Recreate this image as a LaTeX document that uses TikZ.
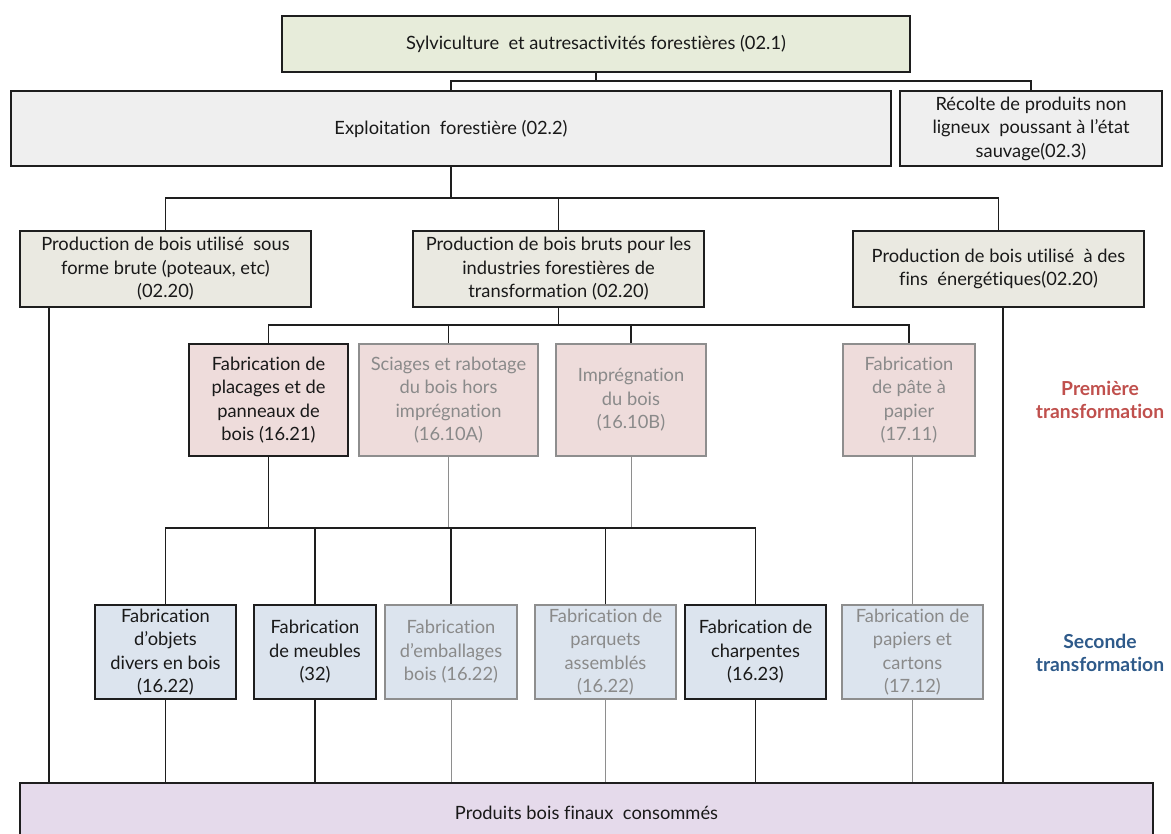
\documentclass[tikz,border=0pt]{standalone}
\usepackage{fontspec}
\setmainfont{Lato}[Ligatures=NoCommon]
\definecolor{fillTop}{HTML}{E7ECDA}
\definecolor{fillExp}{HTML}{EFEFEF}
\definecolor{fillProd}{HTML}{EAE9E1}
\definecolor{fillFirst}{HTML}{EEDCDB}
\definecolor{fillSecond}{HTML}{DCE4EE}
\definecolor{fillFinal}{HTML}{E5DAEB}
\definecolor{lineDark}{HTML}{1E1E1E}
\definecolor{lineGrey}{HTML}{8E8E8E}
\definecolor{textGrey}{HTML}{8A8A8A}
\definecolor{redLabel}{HTML}{C0504D}
\definecolor{blueLabel}{HTML}{2E5A8A}
\tikzset{
  box/.style={draw=lineDark, line width=1.3pt, align=center, inner sep=1pt,
    font=\fontsize{18.3}{23.5}\selectfont, text=black!90, anchor=center},
  greybox/.style={box, draw=lineGrey, text=textGrey},
  link/.style={draw=lineDark, line width=1.2pt},
  thicklink/.style={draw=lineDark, line width=1.5pt},
  greylink/.style={draw=lineGrey, line width=1pt},
  stage/.style={align=center, font=\fontsize{19.3}{23}\selectfont\bfseries}
}
\begin{document}
\begin{tikzpicture}[x=1pt, y=-1pt]
\useasboundingbox (0,0) rectangle (1171,834);
\clip (0,0) rectangle (1171,834);

% top level
\node[box, fill=fillTop, minimum width=628pt, minimum height=56pt] (sylv) at (596,44)
  {Sylviculture~ et autresactivités forestières (02.1)};
\node[box, fill=fillExp, minimum width=880pt, minimum height=75pt] (expl) at (451,128.5)
  {Exploitation~ forestière (02.2)};
\node[box, fill=fillExp, minimum width=262pt, minimum height=75pt] (recol) at (1031,128.5)
  {Récolte de produits non\\ligneux~ poussant à l’état\\sauvage(02.3)};

% wood production
\node[box, fill=fillProd, minimum width=291pt, minimum height=76pt] (prodA) at (165.5,269)
  {Production de bois utilisé~ sous\\forme brute (poteaux, etc)\\(02.20)};
\node[box, fill=fillProd, minimum width=291pt, minimum height=76pt] (prodB) at (558.5,269)
  {Production de bois bruts pour les\\industries forestières de\\transformation (02.20)};
\node[box, fill=fillProd, minimum width=291pt, minimum height=76pt] (prodC) at (998.5,269)
  {Production de bois utilisé~ à des\\fins~ énergétiques(02.20)};

% first transformation
\node[box, fill=fillFirst, minimum width=159pt, minimum height=112pt] (plac) at (268.5,400)
  {Fabrication de\\placages et de\\panneaux de\\bois (16.21)};
\node[greybox, fill=fillFirst, minimum width=179pt, minimum height=112pt] (scia) at (448.5,400)
  {Sciages et rabotage\\du bois hors\\imprégnation\\(16.10A)};
\node[greybox, fill=fillFirst, minimum width=150pt, minimum height=112pt] (impr) at (631,400)
  {Imprégnation\\du bois\\(16.10B)};
\node[greybox, fill=fillFirst, minimum width=132pt, minimum height=112pt] (pate) at (909,400)
  {Fabrication\\de pâte à\\papier\\(17.11)};

% second transformation
\node[box, fill=fillSecond, minimum width=141pt, minimum height=94pt] (obj) at (165.5,652)
  {Fabrication\\d’objets\\divers en bois\\(16.22)};
\node[box, fill=fillSecond, minimum width=122pt, minimum height=94pt] (meub) at (315,652)
  {Fabrication\\de meubles\\(32)};
\node[greybox, fill=fillSecond, minimum width=132pt, minimum height=94pt] (emb) at (451,652)
  {Fabrication\\d’emballages\\bois (16.22)};
\node[greybox, fill=fillSecond, minimum width=141pt, minimum height=94pt] (parq) at (605.5,652)
  {Fabrication de\\parquets\\assemblés\\(16.22)};
\node[box, fill=fillSecond, minimum width=141pt, minimum height=94pt] (charp) at (755.5,652)
  {Fabrication de\\charpentes\\(16.23)};
\node[greybox, fill=fillSecond, minimum width=141pt, minimum height=94pt] (pap) at (912.5,652)
  {Fabrication de\\papiers et\\cartons\\(17.12)};

% final products
\node[box, fill=fillFinal, minimum width=1133pt, minimum height=60pt] (final) at (586.5,813)
  {Produits bois finaux~ consommés};

% stage labels
\node[stage, text=redLabel] (first) at (1100,400) {Première\\transformation};
\node[stage, text=blueLabel] (second) at (1100,653) {Seconde\\transformation};

% junction points
\coordinate (j1) at (596,81);
\coordinate (j2) at (451,198);
\coordinate (j3) at (558.5,325);
\coordinate (j4) at (268.5,528);
\coordinate (aOut) at (49,307);
\coordinate (cOut) at (1003,307);

% connectors
\draw[link] (sylv.south) -- (j1);
\draw[link] (expl.north) |- (j1 -| recol.north) -- (recol.north);
\draw[link] (expl.south) -- (j2);
\draw[link] (prodA.north) |- (j2 -| prodC.north) -- (prodC.north);
\draw[link] (prodB.north) -- (prodB.north |- j2);
\draw[link] (prodB.south) -- (j3);
\draw[link] (plac.north) |- (j3 -| pate.north) -- (pate.north);
\draw[link] (scia.north) -- (scia.north |- j3);
\draw[link] (impr.north) -- (impr.north |- j3);

\draw[greylink] (scia.south) -- (scia.south |- j4);
\draw[greylink] (impr.south) -- (impr.south |- j4);
\draw[greylink] (pap.north) -- (pap.north |- pate.south);

\draw[thicklink] (plac.south) -- (j4);
\draw[thicklink] (obj.north) |- (j4 -| charp.north) -- (charp.north);
\draw[thicklink] (meub.north) -- (meub.north |- j4);
\draw[thicklink] (emb.north) -- (emb.north |- j4);
\draw[thicklink] (parq.north) -- (parq.north |- j4);

\draw[link] (aOut) -- (aOut |- final.north);
\draw[link] (cOut) -- (cOut |- final.north);
\draw[link] (obj.south) -- (obj.south |- final.north);
\draw[link] (meub.south) -- (meub.south |- final.north);
\draw[link] (charp.south) -- (charp.south |- final.north);
\draw[greylink] (emb.south) -- (emb.south |- final.north);
\draw[greylink] (parq.south) -- (parq.south |- final.north);
\draw[greylink] (pap.south) -- (pap.south |- final.north);
\end{tikzpicture}
\end{document}
